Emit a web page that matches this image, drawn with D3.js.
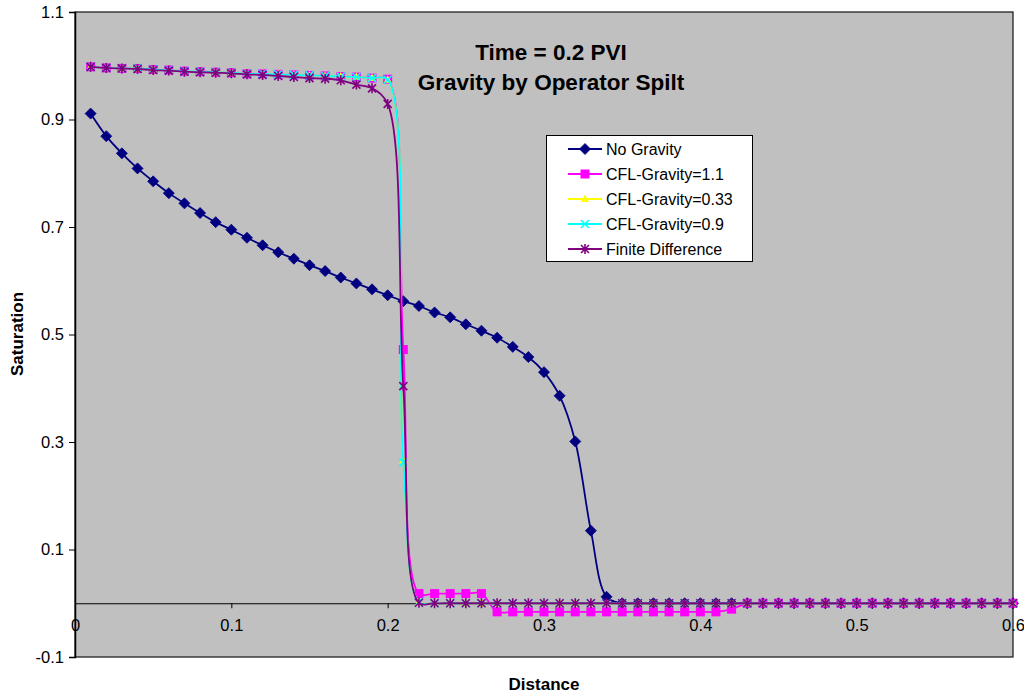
<!DOCTYPE html>
<html><head><meta charset="utf-8">
<script src="https://cdn.jsdelivr.net/npm/d3@7"></script>
<style>body{margin:0;background:#fff;}svg{display:block;font-family:Arial,"Liberation Sans",sans-serif;}</style>
</head><body>
<svg id="chart" width="1024" height="694"></svg>
<script>
const distance = [0.01,0.02,0.03,0.04,0.05,0.06,0.07,0.08,0.09,0.10,0.11,0.12,0.13,0.14,0.15,0.16,0.17,0.18,0.19,0.20,
  0.21,0.22,0.23,0.24,0.25,0.26,0.27,0.28,0.29,0.30,0.31,0.32,0.33,0.34,0.35,0.36,0.37,0.38,0.39,0.40,
  0.41,0.42,0.43,0.44,0.45,0.46,0.47,0.48,0.49,0.50,0.51,0.52,0.53,0.54,0.55,0.56,0.57,0.58,0.59,0.60];

const noGravity = [0.911,0.869,0.837,0.809,0.785,0.763,0.744,0.726,0.709,0.695,0.680,0.666,0.653,0.641,0.629,0.618,0.606,0.595,0.584,0.573,
  0.562,0.553,0.541,0.532,0.519,0.507,0.494,0.477,0.458,0.430,0.386,0.301,0.135,0.012,0,0,0,0,0,0,
  0,0,0,0,0,0,0,0,0,0,0,0,0,0,0,0,0,0,0,0];

const cfl11 = [0.998,0.996,0.995,0.995,0.993,0.992,0.990,0.989,0.988,0.987,0.985,0.985,0.984,0.983,0.982,0.981,0.980,0.979,0.977,0.975,
  0.472,0.018,0.018,0.018,0.018,0.018,-0.016,-0.016,-0.016,-0.016,-0.016,-0.016,-0.016,-0.016,-0.016,-0.016,-0.016,-0.016,-0.016,-0.016,
  -0.016,-0.011,0,0,0,0,0,0,0,0,0,0,0,0,0,0,0,0,0,0];

const cfl033 = [0.998,0.996,0.995,0.995,0.993,0.992,0.990,0.989,0.988,0.987,0.985,0.985,0.984,0.983,0.982,0.981,0.980,0.979,0.977,0.974,
  0.266,0.002,0,0,0,0,0,0,0,0,0,0,0,0,0,0,0,0,0,0,
  0,0,0,0,0,0,0,0,0,0,0,0,0,0,0,0,0,0,0,0];

const cfl09 = [0.998,0.996,0.995,0.995,0.993,0.992,0.990,0.989,0.988,0.987,0.985,0.985,0.984,0.983,0.982,0.981,0.980,0.979,0.977,0.974,
  0.262,0.002,0,0,0,0,0,0,0,0,0,0,0,0,0,0,0,0,0,0,
  0,0,0,0,0,0,0,0,0,0,0,0,0,0,0,0,0,0,0,0];

const finiteDiff = [0.998,0.996,0.995,0.994,0.992,0.991,0.989,0.988,0.987,0.986,0.984,0.983,0.981,0.979,0.977,0.976,0.973,0.965,0.958,0.929,
  0.404,0.001,0,0,0,0,0,0,0,0,0,0,0,0,0,0,0,0,0,0,
  0,0,0,0,0,0,0,0,0,0,0,0,0,0,0,0,0,0,0,0];

const seriesNames = ["No Gravity","CFL-Gravity=1.1","CFL-Gravity=0.33","CFL-Gravity=0.9","Finite Difference"];
const seriesColors = ["#000080","#FF00FF","#FFFF00","#00FFFF","#800080"];
const seriesMarkers = ["diamond","square","triangle","x","star"];
const seriesValues = [noGravity, cfl11, cfl033, cfl09, finiteDiff];

const xTicks = [0,0.1,0.2,0.3,0.4,0.5,0.6];
const yTicks = [-0.1,0.1,0.3,0.5,0.7,0.9,1.1];
const titleLines = ["Time = 0.2 PVI","Gravity by Operator Spilt"];

const svg = d3.select("#chart");
const L = 75, R = 1013, T = 12, B = 657;
const x = d3.scaleLinear().domain([0,0.6]).range([L,R]);
const y = d3.scaleLinear().domain([-0.1,1.1]).range([B,T]);
const FONT = "Arial, 'Liberation Sans', sans-serif";

// plot area
svg.append("rect").attr("x",L).attr("y",T).attr("width",R-L).attr("height",B-T)
  .attr("fill","#C0C0C0").attr("stroke","#222").attr("stroke-width",1.3);

// y axis
const yAxis = d3.axisLeft(y).tickValues(yTicks).tickSize(6).tickPadding(5)
  .tickFormat(d => d3.format(".1f")(d).replace("−","-"));
const gy = svg.append("g").attr("transform",`translate(${L},0)`).call(yAxis);
gy.select(".domain").attr("stroke","#000").attr("stroke-width",1.5);
gy.selectAll("line").attr("stroke","#000");
gy.selectAll("text").attr("font-size",16.5).attr("fill","#000").attr("font-family",FONT);

// x axis at y=0
const xAxis = d3.axisBottom(x).tickValues(xTicks).tickSize(5).tickPadding(11)
  .tickFormat(d => d === 0 ? "0" : d3.format(".1f")(d));
const gx = svg.append("g").attr("transform",`translate(0,${y(0)})`).call(xAxis);
gx.select(".domain").attr("stroke","#000").attr("stroke-width",1);
gx.selectAll("line").attr("stroke","#000");
gx.selectAll("text").attr("font-size",16.5).attr("fill","#000").attr("font-family",FONT);

// markers
function drawMarker(g, type, color, cx, cy) {
  if (type === "diamond") {
    g.append("path").attr("d",`M${cx},${cy-5.5}L${cx+5.5},${cy}L${cx},${cy+5.5}L${cx-5.5},${cy}Z`)
      .attr("fill",color).attr("stroke",color).attr("stroke-width",0.8);
  } else if (type === "square") {
    g.append("rect").attr("x",cx-4.5).attr("y",cy-4.5).attr("width",9).attr("height",9).attr("fill",color);
  } else if (type === "triangle") {
    g.append("path").attr("d",`M${cx},${cy-4.5}L${cx+4},${cy+3}L${cx-4},${cy+3}Z`).attr("fill",color);
  } else if (type === "x") {
    g.append("path").attr("d",`M${cx-4},${cy-4}L${cx+4},${cy+4}M${cx+4},${cy-4}L${cx-4},${cy+4}`)
      .attr("stroke",color).attr("stroke-width",1.6);
  } else if (type === "star") {
    g.append("path").attr("d",`M${cx-4},${cy-4}L${cx+4},${cy+4}M${cx+4},${cy-4}L${cx-4},${cy+4}M${cx},${cy-5}L${cx},${cy+5}`)
      .attr("stroke",color).attr("stroke-width",1.6);
  }
}

const line = d3.line().x(d => x(d[0])).y(d => y(d[1])).curve(d3.curveCatmullRom.alpha(0.5));

seriesValues.forEach((vals, i) => {
  const pts = distance.map((d, j) => [d, vals[j]]);
  const g = svg.append("g");
  g.append("path").attr("d", line(pts)).attr("fill","none")
    .attr("stroke", seriesColors[i]).attr("stroke-width", 1.8);
  pts.forEach(p => drawMarker(g, seriesMarkers[i], seriesColors[i], x(p[0]), y(p[1])));
});

// title
titleLines.forEach((t, i) => {
  svg.append("text").attr("x",551).attr("y",60 + i*30).attr("text-anchor","middle")
    .attr("font-size",22.5).attr("font-weight","bold").attr("fill","#000").text(t);
});

// axis titles
svg.append("text").attr("x",544).attr("y",690).attr("text-anchor","middle")
  .attr("font-size",17).attr("font-weight","bold").text("Distance");
svg.append("text").attr("transform","translate(23,334) rotate(-90)").attr("text-anchor","middle")
  .attr("font-size",17).attr("font-weight","bold").text("Saturation");

// legend
const lg = svg.append("g");
lg.append("rect").attr("x",546.5).attr("y",135.5).attr("width",206).attr("height",126)
  .attr("fill","#fff").attr("stroke","#000").attr("stroke-width",1);
seriesNames.forEach((n, i) => {
  const cy = 149 + i*25;
  lg.append("line").attr("x1",568).attr("x2",602).attr("y1",cy).attr("y2",cy)
    .attr("stroke",seriesColors[i]).attr("stroke-width",1.8);
  drawMarker(lg, seriesMarkers[i], seriesColors[i], 585, cy);
  lg.append("text").attr("x",606).attr("y",cy+5.5).attr("font-size",16).attr("fill","#000").text(n);
});
</script>
</body></html>
